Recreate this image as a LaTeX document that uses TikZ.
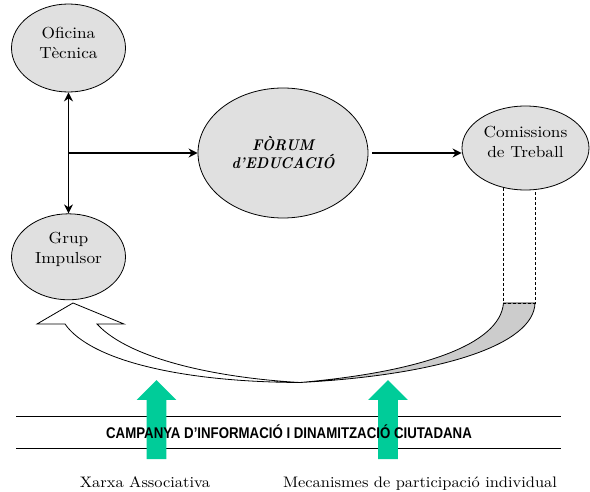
\documentclass[tikz,border=0pt]{standalone}
\usepackage{fontspec}
\setmainfont{lmroman10-regular.otf}[
  BoldFont=lmroman10-bold.otf,
  ItalicFont=lmroman10-italic.otf,
  BoldItalicFont=lmroman10-bolditalic.otf,
  FakeStretch=1.08]
\newfontfamily\forumfont{lmroman10-bolditalic.otf}[FakeStretch=0.92]
\newfontfamily\bandfont{Liberation Sans}[FakeStretch=0.855]
\usetikzlibrary{
  arrows.meta, % for Stealth arrow tip
  positioning, % for relative positioning of the ellipses
  shapes.geometric, % for the ellipse shape
  shapes.arrows, % for the green single arrows
}
\definecolor{bubblegray}{RGB}{224,224,224}
\definecolor{ribbongray}{RGB}{204,204,204}
\definecolor{pushgreen}{RGB}{0,204,153}
\tikzset{
  bubble/.style={ % style for each ellipse
    ellipse,draw,line width=0.8pt, % drawn as a thin ellipse
    fill=bubblegray, % light gray inside
    inner sep=0pt, % size comes from the minimum sizes only
    minimum width=114pt,
    minimum height=88pt,
    align=center,
  },
  bubble text/.style={ % text of the small ellipses, a bit above the centre
    align=center,
    font=\fontsize{16}{20}\selectfont,
    yshift=5pt,
  },
  conn/.style={ % style for the black connections
    ->, % Stealth tip from the picture options
    line width=1.5pt,
  },
  chute/.style={ % dashed drop below the Comissions
    line width=0.7pt,
    dash pattern=on 3pt off 2pt,
  },
  ribbon/.style={ % the twisted return arrow
    line width=0.8pt,
    line join=miter,
  },
  push/.style={ % green arrows coming up from the bottom
    single arrow,
    shape border rotate=90,
    fill=pushgreen,
    inner sep=9.75pt, % gives the width of the shaft
    minimum width=39pt,
    minimum height=79pt,
    single arrow head extend=10pt,
    single arrow tip angle=90,
  },
  band/.style={ % the two lines round the campaign
    line width=0.8pt,
  },
  campaign/.style={ % bold narrow text of the campaign
    font=\bandfont\bfseries\fontsize{15.5}{18}\selectfont,
  },
  caption/.style={ % texts under the green arrows
    font=\fontsize{15.2}{18}\selectfont,
    anchor=base,
  },
}

\begin{document}
\begin{tikzpicture}[x=1pt, y=-1pt, >={Stealth[length=9pt,width=9pt]}]
	\useasboundingbox (0,0) rectangle (590,492);
	
	\node (oficina) [bubble, label={[bubble text]center:Oficina\\Tècnica}] at (68.5,48) {};
	
	\node (grup) [bubble, minimum height=86pt, below=121pt of oficina,
		label={[bubble text, yshift=2pt]center:Grup\\Impulsor}] {};
	
	\node (forum) [bubble, minimum width=170pt, minimum height=130pt,
		font=\forumfont\fontsize{15.5}{18}\selectfont] at (283,153) {FÒRUM\\d’EDUCACIÓ};
	
	\node (comissions) [bubble, minimum width=127pt, minimum height=84pt,
		label={[bubble text, yshift=1pt]center:Comissions\\de Treball}] at (525.5,148) {};
	
	\draw[conn, <->] (oficina) -- (grup);
	\draw[conn] (oficina.south |- forum.west) -- (forum.west);
	\draw[conn] ([xshift=4pt]forum.east) -- (forum.east -| comissions.west);
	
	% drop and twisted return arrow
	\coordinate (chuteL) at (503.5,303);
	\coordinate (chuteR) at (535,303);
	\coordinate (twist) at (300,382.5);
	\draw[ribbon, fill=ribbongray] (chuteR) .. controls (534,345) and (440,375) .. (twist)
		.. controls (420,372) and (500,345) .. (chuteL) -- cycle;
	\draw[ribbon, fill=white] (twist) .. controls (180,382) and (90,360) .. (65,324)
		-- (37,324) -- (73,303) -- (124,324) -- (97,324)
		.. controls (130,360) and (220,378) .. (twist) -- cycle;
	\draw[chute] (chuteL |- comissions.-119) -- (chuteL) -- (chuteR) -- (chuteR |- comissions.-77);
	
	% campaign band
	\coordinate (bandNW) at (16,416);
	\coordinate (bandNE) at (561,416);
	\coordinate (bandSW) at (16,448);
	\coordinate (bandSE) at (561,448);
	\draw[band] (bandNW) -- (bandNE);
	\draw[band] (bandSW) -- (bandSE);
	
	\node (xarxaup) [push] at (156.5,424.5) {};
	\node (mecanup) [push] at (388,424.5) {};
	
	\node (campanya) [campaign] at (289,432) {CAMPANYA D’INFORMACIÓ I DINAMITZACIÓ CIUTADANA};
	
	\node (xarxa) [caption] at (145,487) {Xarxa Associativa};
	\node (mecanismes) [caption] at (420,487) {Mecanismes de participació individual};
\end{tikzpicture}
\end{document}
